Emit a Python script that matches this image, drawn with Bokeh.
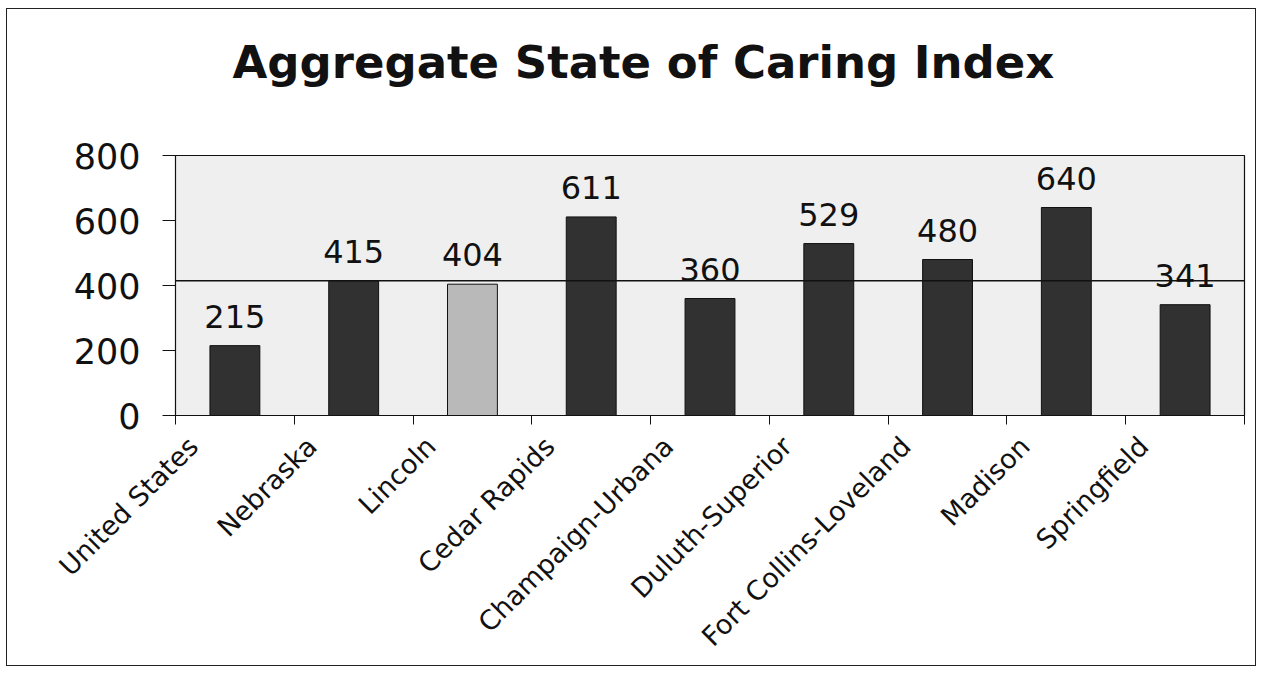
from bokeh.plotting import figure
from bokeh.models import FixedTicker, Span, ColumnDataSource
from bokeh.layouts import column
from bokeh.embed import file_html
from bokeh.resources import INLINE
from bokeh.core.properties import value
import math

# ---- data ----
title_text = "Aggregate State of Caring Index"
categories = ["United States", "Nebraska", "Lincoln", "Cedar Rapids",
              "Champaign-Urbana", "Duluth-Superior", "Fort Collins-Loveland",
              "Madison", "Springfield"]
index_values = [215, 415, 404, 611, 360, 529, 480, 640, 341]
reference_value = 415          # Nebraska level, drawn as a horizontal line
highlight = "Lincoln"
y_ticks = [0, 200, 400, 600, 800]

DARK = "#313131"
LIGHT = "#b9b9b9"

n = len(categories)
xpos = [i + 0.5 for i in range(n)]
label_pos = [i + 0.15 for i in range(n)]   # Excel-style rotated labels sit left of the bar
colors = [LIGHT if c == highlight else DARK for c in categories]
src = ColumnDataSource(dict(x=xpos, v=index_values, lab=[str(v) for v in index_values],
                            color=colors))

# ---- title strip (a figure that only carries the chart title) ----
t = figure(width=1248, height=125, output_backend="svg", toolbar_location=None,
           x_range=(0, 1), y_range=(0, 1), min_border=0, title=title_text)
t.title.text_font = "DejaVu Sans"
t.title.text_font_size = "45px"
t.title.text_font_style = "bold"
t.title.align = "left"
t.title.vertical_align = "top"
t.title.offset = 57
t.title.standoff = 52
t.title.text_color = "#111111"
t.axis.visible = False
t.grid.visible = False
t.outline_line_color = None
t.background_fill_color = "white"
t.border_fill_color = "white"

# ---- main chart ----
p = figure(width=1248, height=531, output_backend="svg", toolbar_location=None,
           x_range=(0, n), y_range=(0, 800),
           min_border_left=168, min_border_right=11, min_border_top=21,
           min_border_bottom=247)

p.background_fill_color = "#efefef"
p.border_fill_color = "white"
p.outline_line_color = "#111111"
p.outline_line_width = 1.2
p.xgrid.visible = False
p.ygrid.visible = False

p.vbar(x="x", top="v", width=0.42, bottom=0, source=src, fill_color="color",
       line_color="#111111", line_width=1)

p.add_layout(Span(location=reference_value, dimension="width", line_color="#111111",
                  line_width=1.5))

p.text(x="x", y="v", text="lab", source=src, text_align="center", text_baseline="bottom",
       y_offset=-18, text_font=value("DejaVu Sans"), text_font_size="32px",
       text_color="#111111")

# x axis: labels anchored left of each bar, tick marks between categories
xa = p.xaxis[0]
xa.ticker = FixedTicker(ticks=label_pos, minor_ticks=list(range(n + 1)))
xa.major_label_overrides = {x: c for x, c in zip(label_pos, categories)}
xa.major_tick_out = 0
xa.major_tick_in = 0
xa.minor_tick_out = 9
xa.minor_tick_in = 0
xa.minor_tick_line_color = "#111111"
xa.axis_line_color = "#111111"
xa.major_label_orientation = math.pi / 4
xa.major_label_text_font = "DejaVu Sans"
xa.major_label_text_font_size = "27px"
xa.major_label_text_color = "#111111"
xa.major_label_standoff = 17

ya = p.yaxis[0]
ya.ticker = FixedTicker(ticks=y_ticks)
ya.major_tick_out = 13
ya.major_tick_in = 0
ya.minor_tick_out = 0
ya.minor_tick_in = 0
ya.major_tick_line_color = "#111111"
ya.axis_line_color = "#111111"
ya.major_label_text_font = "DejaVu Sans"
ya.major_label_text_font_size = "35px"
ya.major_label_text_color = "#111111"
ya.major_label_standoff = 22

layout = column(t, p, spacing=0,
                styles={"border": "1.5px solid #222222", "margin-left": "6px",
                        "margin-top": "8px"})

open("out.html", "w").write(file_html(layout, INLINE))
